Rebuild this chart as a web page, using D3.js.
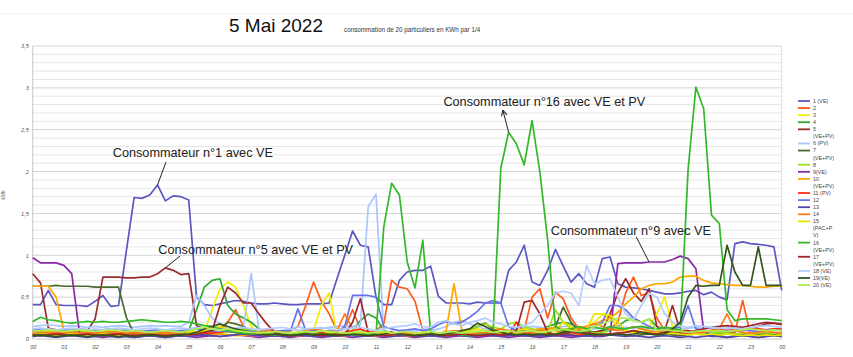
<!DOCTYPE html>
<html><head><meta charset="utf-8">
<script src="https://cdn.jsdelivr.net/npm/d3@7"></script>
<style>body{margin:0;background:#fff}svg{display:block}</style>
</head><body><div id="chart"></div>
<script>
const title = "5 Mai 2022";
const subtitle = "consommation de 20 particuliers en KWh par 1/4";
const yTitle = "kWh";
const hourLabels = ["00","01","02","03","04","05","06","07","08","09","10","11","12","13","14","15","16","17","18","19","20","21","22","23","00"];
const yTicks = [0,0.5,1,1.5,2,2.5,3,3.5];
const legendLabels = [["1 (VE)"],["2"],["3"],["4"],["5","(VE+PV)"],["6 (PV)"],["7","(VE+PV)"],["8"],["9(VE)"],["10","(VE+PV)"],["11 (PV)"],["12"],["13"],["14"],["15","(PAC+P","V)"],["16","(VE+PV)"],["17","(VE+PV)"],["18 (VE)"],["19(VE)"],["20 (VE)"]];
const colors = ["#5b57c4","#ff5a1a","#f2ef00","#2ea82e","#9c2b2b","#a9c6ff","#4a6b2c","#9be21c","#8a2aa8","#ffa700","#ff2a0a","#6674ec","#5246ae","#ff7a1c","#e6e600","#33b82a","#a1272f","#b3cdfd","#34561a","#b0ec52"];

const s1 = [.41,.41,.58,.41, .40,.40,.40,.39, .45,.52,.39,.40, 1.05,1.69,1.68,1.72, 1.84,1.65,1.71,1.70, 1.66,.50,.41,.40, .42,.44,.46,.45, .43,.42,.42,.43, .42,.41,.41,.42, .42,.42,.43,.72, 1.0,1.29,1.12,1.10, .50,.41,.41,.70, .80,.82,.82,.87, .51,.43,.43,.43, .42,.44,.43,.43, .43,.82,.92,1.12, .68,.64,.82,1.07, .87,.68,.78,.66, .62,.96,.98,.66, .62,.61,.60,.58, .56,.54,.54,.55, .57,.58,.53,.56, .50,.47,1.14,1.16, 1.14,1.13,1.12,1.10, .58];
const s2 = [.08,.07,.09,.08, .07,.08,.06,.07, .08,.07,.06,.08, .07,.06,.07,.08, .06,.07,.08,.06, .07,.05,.08,.10, .12,.20,.35,.15, .10,.08,.12,.10, .09,.10,.15,.40, .68,.45,.30,.10, .12,.35,.12,.08, .10,.18,.70,.62, .60,.45,.10,.08, .07,.06,.08,.07, .06,.08,.07,.06, .08,.07,.06,.10, .50,.60,.25,.56, .48,.25,.12,.10, .08,.10,.12,.20, .55,.74,.52,.55, .25,.10,.08,.07, .06,.07,.08,.06, .07,.08,.08,.46, .05,.06,.07,.06, .07];
const s3 = [.10,.11,.10,.09, .10,.09,.10,.11, .10,.09,.08,.09, .08,.09,.10,.09, .08,.09,.08,.09, .10,.08,.09,.35, .60,.68,.62,.40, .15,.08,.06,.05, .06,.05,.06,.07, .10,.40,.55,.05, .05,.06,.05,.06, .05,.06,.07,.05, .06,.05,.06,.05, .06,.05,.07,.06, .05,.06,.05,.06, .07,.06,.08,.06, .07,.08,.06,.07, .08,.10,.12,.15, .20,.29,.25,.15, .10,.08,.12,.15, .30,.50,.15,.08, .07,.06,.07,.06, .05,.06,.05,.06, .05,.06,.05,.06, .05];
const s4 = [.05,.06,.05,.06, .05,.06,.05,.05, .06,.05,.06,.05, .05,.06,.05,.06, .05,.05,.06,.05, .10,.35,.62,.70, .72,.40,.30,.25, .20,.12,.08,.06, .06,.05,.06,.07, .06,.05,.06,.05, .06,.10,.22,.30, .25,.10,.06,.06, .05,.06,.07,.05, .06,.05,.06,.07, .06,.08,.07,.06, .07,.08,.10,.12, .10,.12,.15,.18, .20,.18,.12,.10, .08,.10,.12,.15, .22,.25,.20,.24, .15,.12,.10,.08, .07,.06,.08,.07, .06,.07,.06,.05, .06,.05,.06,.05, .06];
const s5 = [.78,.67,.13,.11, .10,.10,.10,.10, .24,.74,.74,.74, .73,.73,.74,.74, .78,.85,.82,.77, .78,.16,.12,.12, .10,.09,.08,.07, .06,.05,.06,.05, .04,.05,.04,.05, .04,.05,.04,.05, .04,.05,.04,.05, .04,.05,.04,.05, .04,.05,.04,.05, .04,.05,.04,.05, .04,.05,.04,.05, .04,.05,.04,.05, .04,.05,.04,.05, .04,.05,.04,.05, .08,.10,.30,.55, .72,.55,.45,.60, .15,.10,.40,.10, .10,.08,.09,.10, .12,.10,.09,.10, .12,.15,.18,.19, .17];
const s6 = [.15,.16,.17,.16, .15,.16,.15,.14, .15,.14,.15,.16, .15,.14,.15,.16, .15,.16,.15,.15, .20,.52,.40,.25, .18,.12,.10,.12, .78,.12,.10,.08, .10,.12,.15,.12, .10,.12,.14,.15, .16,.15,.17,1.58, 1.73,.05,.06,.08, .10,.09,.12,.10, .12,.15,.20,.22, .18,.15,.12,.10, .12,.10,.12,.14, .15,.14,.13,.14, .15,.15,.14,.13, .12,.13,.14,.15, .14,.13,.14,.13, .12,.14,.13,.12, .13,.14,.12,.13, .12,.13,.14,.12, .13,.12,.11,.12, .10];
const s7 = [.63,.63,.63,.64, .63,.63,.63,.63, .62,.62,.62,.62, .26,.06,.04,.05, .04,.05,.04,.05, .06,.05,.08,.10, .12,.20,.18,.15, .10,.08,.06,.05, .06,.05,.04,.05, .04,.05,.06,.05, .04,.05,.04,.05, .06,.05,.04,.05, .04,.05,.06,.05, .04,.05,.06,.08, .10,.15,.19,.12, .08,.06,.05,.04, .05,.06,.05,.15, .38,.20,.10,.06, .05,.04,.05,.06, .05,.04,.05,.06, .05,.06,.05,.04, .05,.06,.05,.04, .05,.06,.05,.04, .05,.06,.05,.04, .05];
const s8 = [.08,.09,.08,.07, .08,.07,.08,.09, .08,.07,.08,.07, .08,.09,.08,.07, .08,.07,.08,.09, .10,.12,.10,.08, .07,.08,.10,.12, .10,.08,.07,.06, .07,.06,.08,.07, .06,.07,.08,.06, .07,.06,.05,.06, .07,.08,.06,.05, .06,.07,.06,.05, .06,.05,.06,.07, .12,.15,.18,.14, .12,.18,.20,.15, .12,.10,.08,.35, .20,.12,.10,.08, .07,.08,.10,.12, .10,.09,.08,.10, .08,.07,.08,.07, .06,.07,.06,.07, .08,.07,.06,.07, .06,.07,.08,.07, .07];
const s9 = [.97,.91,.91,.91, .88,.78,.07,.04, .03,.02,.03,.04, .03,.02,.03,.04, .03,.02,.03,.04, .03,.02,.03,.04, .03,.04,.05,.04, .03,.02,.03,.04, .03,.02,.03,.04, .03,.02,.03,.04, .03,.02,.03,.04, .03,.02,.03,.04, .03,.02,.03,.04, .03,.02,.03,.04, .03,.02,.03,.04, .03,.02,.03,.04, .03,.02,.03,.04, .03,.02,.03,.04, .03,.03,.05,.90, .91,.91,.91,.92, .92,.92,.95,.99, .96,.84,.10,.03, .03,.02,.03,.04, .03,.02,.03,.04, .03];
const s10 = [.63,.63,.63,.50, .10,.06,.05,.05, .04,.05,.04,.05, .04,.05,.04,.05, .04,.05,.04,.05, .04,.05,.06,.05, .06,.05,.04,.05, .04,.05,.04,.05, .04,.05,.04,.05, .04,.05,.04,.05, .04,.05,.04,.05, .04,.05,.04,.05, .04,.05,.04,.05, .05,.10,.66,.10, .08,.07,.06,.07, .08,.07,.08,.10, .10,.12,.12,.14, .12,.12,.14,.15, .18,.22,.25,.32, .42,.50,.60,.64, .66,.66,.68,.74, .75,.75,.70,.67, .66,.65,.64,.64, .63,.62,.62,.63, .63];
const s11 = [.06,.05,.06,.07, .06,.05,.06,.05, .06,.05,.06,.07, .06,.05,.06,.05, .06,.05,.06,.07, .06,.05,.06,.07, .08,.10,.08,.06, .05,.06,.05,.06, .05,.06,.05,.06, .07,.08,.06,.07, .08,.10,.12,.08, .06,.07,.08,.06, .05,.06,.05,.06, .05,.06,.05,.06, .05,.06,.07,.06, .05,.06,.20,.08, .06,.05,.06,.05, .06,.08,.06,.05, .06,.05,.06,.07, .08,.10,.08,.07, .08,.07,.08,.06, .07,.08,.09,.10, .11,.12,.11,.12, .13,.12,.11,.12, .12];
const s12 = [.10,.12,.11,.10, .11,.10,.12,.11, .10,.11,.12,.10, .11,.10,.09,.10, .11,.10,.09,.10, .11,.12,.10,.09, .10,.09,.08,.10, .09,.08,.10,.09, .10,.09,.36,.10, .10,.09,.10,.09, .15,.52,.52,.52, .50,.15,.12,.10, .11,.12,.10,.12, .17,.21,.18,.20, .26,.33,.43,.46, .43,.15,.10,.09, .10,.09,.10,.12, .10,.09,.10,.12, .15,.20,.40,.40, .35,.25,.20,.15, .12,.10,.12,.15, .40,.12,.10,.09, .10,.09,.10,.11, .10,.09,.10,.11, .10];
const s13 = [.03,.04,.03,.02, .03,.04,.03,.02, .03,.04,.03,.02, .03,.02,.03,.04, .03,.02,.03,.04, .03,.04,.05,.04, .03,.04,.05,.06, .05,.04,.03,.04, .03,.04,.05,.04, .03,.04,.03,.04, .05,.04,.03,.04, .05,.04,.03,.04, .05,.04,.03,.04, .03,.04,.05,.04, .03,.04,.05,.04, .03,.04,.05,.04, .03,.04,.03,.04, .05,.04,.03,.04, .03,.04,.05,.04, .03,.04,.03,.02, .03,.04,.03,.02, .03,.02,.03,.04, .03,.02,.03,.04, .03,.02,.03,.04, .03];
const s14 = [.09,.08,.07,.08, .09,.08,.07,.08, .07,.08,.09,.08, .07,.08,.07,.06, .07,.08,.07,.06, .07,.08,.10,.12, .15,.12,.10,.08, .07,.08,.10,.09, .08,.07,.08,.10, .12,.10,.08,.10, .30,.12,.08,.07, .08,.07,.06,.08, .07,.06,.08,.07, .06,.08,.10,.08, .07,.06,.08,.10, .12,.10,.08,.07, .08,.10,.12,.10, .08,.10,.12,.15, .18,.15,.12,.10, .12,.15,.12,.10, .08,.10,.12,.10, .08,.07,.08,.10, .12,.30,.10,.08, .07,.08,.09,.08, .07];
const s15 = [.05,.06,.05,.04, .05,.06,.05,.04, .05,.06,.05,.04, .05,.04,.05,.06, .05,.04,.05,.06, .07,.08,.10,.12, .15,.12,.10,.08, .07,.08,.07,.06, .07,.08,.07,.06, .08,.10,.08,.07, .06,.07,.08,.07, .06,.08,.07,.06, .05,.06,.08,.07, .06,.05,.06,.08, .10,.12,.10,.08, .07,.08,.10,.12, .10,.08,.10,.12, .20,.15,.10,.12, .30,.30,.28,.20, .10,.08,.07,.08, .07,.06,.07,.06, .05,.06,.05,.06, .05,.06,.05,.04, .05,.04,.05,.04, .05];
const s16 = [.21,.26,.23,.22, .20,.19,.20,.21, .20,.21,.20,.20, .21,.22,.23,.22, .21,.20,.20,.21, .20,.18,.16,.15, .12,.10,.08,.07, .06,.07,.06,.05, .06,.05,.06,.07, .06,.05,.06,.05, .06,.05,.06,.05, .05,1.34,1.86,1.72, .92,.61,1.18,.08, .05,.04,.06,.05, .04,.05,.06,.06, 2.04,2.47,2.33,2.08, 2.61,2.00,1.18,.15, .10,.12,.15,.12, .14,.12,.15,.13, .12,.14,.15,.13, .12,.14,.13,.10, 2.02,3.01,2.75,1.48, 1.38,.35,.22,.24, .24,.24,.24,.23, .22];
const s17 = [.05,.04,.05,.06, .05,.04,.05,.06, .05,.04,.05,.06, .05,.04,.05,.06, .05,.04,.05,.06, .05,.06,.08,.10, .40,.62,.55,.43, .43,.30,.18,.08, .05,.04,.05,.06, .05,.04,.05,.06, .05,.20,.48,.08, .05,.04,.05,.06, .05,.04,.05,.06, .05,.04,.05,.06, .05,.04,.05,.06, .05,.06,.10,.44, .46,.30,.08,.05, .06,.08,.10,.08, .06,.05,.06,.07, .08,.10,.08,.07, .06,.08,.10,.08, .08,.10,.12,.14, .15,.16,.15,.14, .16,.18,.20,.19, .18];
const s18 = [.12,.13,.12,.11, .12,.13,.12,.11, .12,.11,.12,.13, .12,.11,.12,.13, .12,.11,.12,.13, .12,.14,.13,.12, .11,.12,.13,.14, .12,.11,.12,.13, .14,.12,.11,.12, .13,.14,.12,.11, .12,.13,.14,.12, .10,.12,.14,.15, .16,.18,.15,.14, .20,.22,.18,.16, .20,.22,.25,.20, .18,.15,.14,.16, .20,.30,.40,.55, .57,.55,.40,.88, .66,.70,.72,.50, .30,.23,.40,.55, .50,.30,.20,.15, .14,.16,.15,.14, .13,.12,.13,.12, .14,.15,.16,.15, .14];
const s19 = [.04,.05,.04,.03, .04,.05,.04,.03, .04,.05,.04,.03, .04,.03,.04,.05, .04,.03,.04,.05, .06,.08,.12,.15, .18,.15,.12,.10, .08,.06,.05,.06, .05,.04,.05,.06, .05,.06,.05,.04, .05,.06,.05,.04, .05,.06,.08,.06, .05,.04,.05,.06, .05,.06,.08,.10, .12,.19,.15,.10, .08,.06,.05,.06, .05,.06,.05,.06, .08,.10,.08,.06, .05,.06,.05,.06, .05,.06,.08,.06, .05,.06,.12,.20, .50,.64,.63,.64, .64,1.12,.80,.64, .64,1.10,.64,.64, .64];
const s20 = [.09,.10,.11,.10, .09,.10,.11,.10, .09,.10,.11,.10, .09,.10,.09,.08, .09,.10,.09,.08, .10,.12,.14,.12, .10,.12,.10,.09, .08,.07,.08,.09, .08,.07,.08,.09, .08,.10,.09,.08, .07,.08,.09,.07, .08,.09,.07,.08, .09,.07,.08,.09, .07,.08,.09,.07, .08,.09,.10,.08, .09,.10,.08,.09, .10,.08,.09,.10, .12,.10,.09,.10, .15,.18,.22,.25, .25,.22,.20,.24, .10,.11,.10,.09, .08,.09,.10,.09, .10,.09,.10,.11, .12,.11,.10,.11, .10];
const series = [s1,s2,s3,s4,s5,s6,s7,s8,s9,s10,s11,s12,s13,s14,s15,s16,s17,s18,s19,s20];

// annotations in data units (quarter index, kWh)
const annotations = [
  {text:"Consommateur n°1 avec VE", tq:10.26, tv:2.18, lq:17.09, lv:2.115, s:0, q:16, arrow:false},
  {text:"Consommateur n°5 avec VE et PV", tq:16.1, tv:1.017, lq:18.88, lv:0.99, s:4, q:17, arrow:false},
  {text:"Consommateur n°16 avec VE et PV", tq:52.64, tv:2.778, lq:60.26, lv:2.733, s:15, q:61, arrow:true},
  {text:"Consommateur n°9 avec VE", tq:66.4, tv:1.247, lq:77.35, lv:1.221, s:8, q:79, arrow:false}
];

const W=853, H=357;
const svg = d3.select("#chart").append("svg").attr("width",W).attr("height",H);
const x = d3.scaleLinear().domain([0,96]).range([32.7,781.7]);
const y = d3.scaleLinear().domain([0,3.5]).range([339,46]);
const fr = d3.formatLocale({decimal:",",thousands:" ",grouping:[3],currency:["","€"]});
const fmt = fr.format("~f");

svg.append("line").attr("x1",0).attr("x2",W).attr("y1",14).attr("y2",14).attr("stroke","#eeeeee");

// grid
const grid = svg.append("g");
grid.selectAll("line").data(d3.range(1,36).map(d=>d/10)).join("line")
  .attr("x1",x(0)).attr("x2",x(96)).attr("y1",d=>y(d)).attr("y2",d=>y(d))
  .attr("stroke",d=>Math.abs(d*2-Math.round(d*2))<1e-6?"#d4d4d4":"#e6e6e6").attr("stroke-width",1);
svg.append("line").attr("x1",x(96)).attr("x2",x(96)).attr("y1",y(3.5)).attr("y2",y(0)).attr("stroke","#dcdcdc");
svg.append("line").attr("x1",x(0)).attr("x2",x(0)).attr("y1",y(3.5)).attr("y2",y(0)).attr("stroke","#c8c8c8");
svg.append("line").attr("x1",x(0)).attr("x2",x(96)).attr("y1",y(0)).attr("y2",y(0)).attr("stroke","#c8c8c8");

// axes
const yAxis = svg.append("g").attr("transform",`translate(${x(0)},0)`)
  .call(d3.axisLeft(y).tickValues(yTicks).tickFormat(fmt).tickSize(0).tickPadding(4));
yAxis.select(".domain").remove();
yAxis.selectAll("text").attr("font-family","Liberation Sans").attr("font-style","italic").attr("font-size","5.5px").attr("fill","#555");
const xAxis = svg.append("g").attr("transform",`translate(0,${y(0)})`)
  .call(d3.axisBottom(x).tickValues(d3.range(0,97,4)).tickFormat((d,i)=>hourLabels[i]).tickSize(0).tickPadding(6));
xAxis.select(".domain").remove();
xAxis.selectAll("text").attr("font-family","Liberation Sans").attr("font-style","italic").attr("font-size","5.5px").attr("fill","#555");

svg.append("text").attr("transform","translate(5,195) rotate(-90)").attr("text-anchor","middle")
  .attr("font-family","Liberation Sans").attr("font-size","4.5px").attr("fill","#555").text(yTitle);

// lines
const line = d3.line().x((d,i)=>x(i)).y(d=>y(d));
svg.append("g").selectAll("path").data(series).join("path")
  .attr("d",line).attr("fill","none").attr("stroke",(d,i)=>colors[i]).attr("stroke-width",1.7).attr("stroke-linejoin","round");

// title
svg.append("text").attr("x",229).attr("y",32.3).attr("font-family","Liberation Sans").attr("font-size","19px").attr("fill","#111").text(title);
svg.append("text").attr("x",344).attr("y",32).attr("font-family","Liberation Sans").attr("font-size","6.3px").attr("fill","#333").text(subtitle);

// annotations
svg.append("defs").append("marker").attr("id","arr").attr("viewBox","0 0 10 10").attr("refX",9).attr("refY",5)
  .attr("markerWidth",7).attr("markerHeight",7).attr("orient","auto-start-reverse")
  .append("path").attr("d","M1,1 L9,5 L1,9").attr("fill","none").attr("stroke","#222").attr("stroke-width",1.5);
const ag = svg.append("g");
annotations.forEach(a=>{
  ag.append("text").attr("x",x(a.tq)).attr("y",y(a.tv)).attr("font-family","Liberation Sans").attr("font-size","12.7px").attr("fill","#222").text(a.text);
  const l = ag.append("line").attr("stroke","#222").attr("stroke-width",1);
  if(a.arrow){
    l.attr("x1",x(a.q)).attr("y1",y(series[a.s][a.q])).attr("x2",x(a.lq)).attr("y2",y(a.lv)).attr("marker-end","url(#arr)");
  } else {
    l.attr("x1",x(a.lq)).attr("y1",y(a.lv)).attr("x2",x(a.q)).attr("y2",y(series[a.s][a.q]));
  }
});

// legend
const lg = svg.append("g");
let row = 0;
legendLabels.forEach((lab,i)=>{
  const yy = 101 + row*7.08;
  lg.append("line").attr("x1",798).attr("x2",810).attr("y1",yy).attr("y2",yy).attr("stroke",colors[i]).attr("stroke-width",1.8);
  lab.forEach((t,j)=>{
    lg.append("text").attr("x",813).attr("y",yy+1.9+j*7.08).attr("font-family","Liberation Sans").attr("font-size","5.4px").attr("fill","#444").text(t);
  });
  row += lab.length;
});
</script></body></html>
